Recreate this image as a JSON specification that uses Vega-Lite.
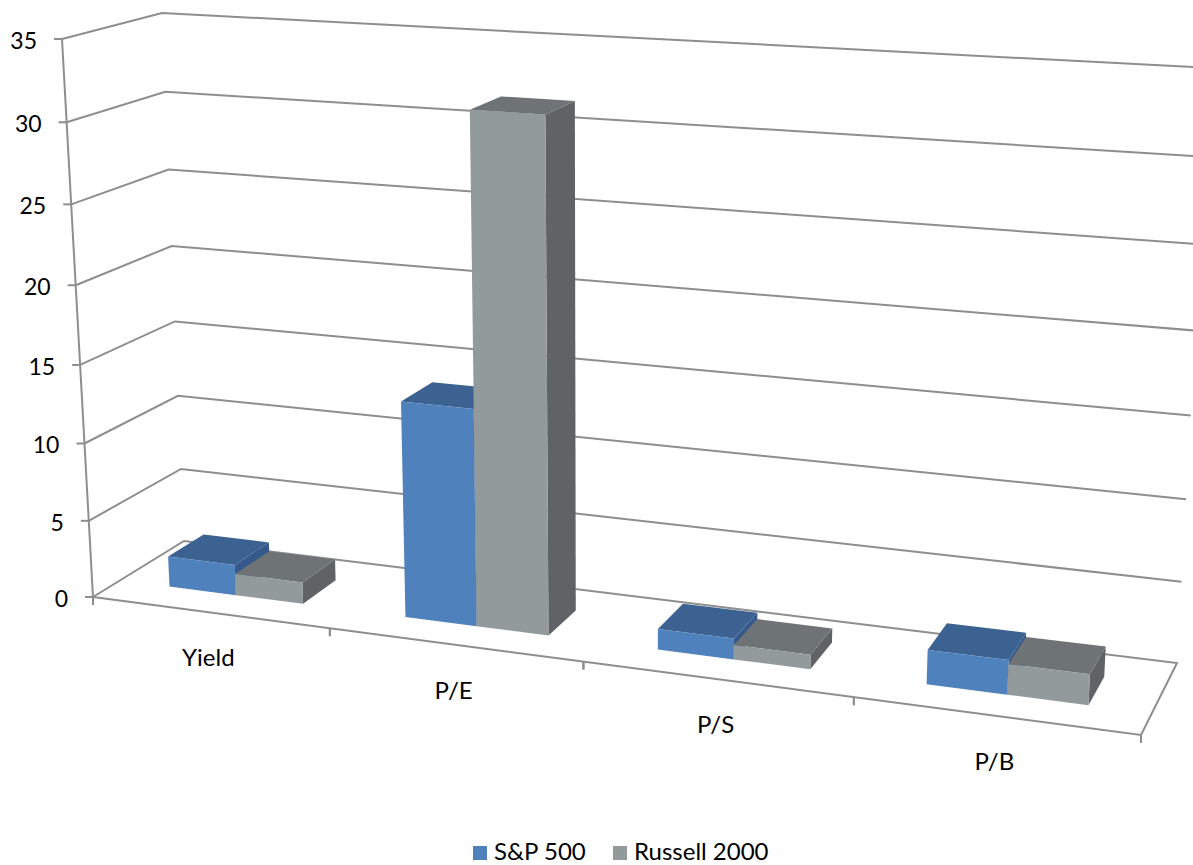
{
  "$schema": "https://vega.github.io/schema/vega-lite/v6.json",
  "width": 1193,
  "height": 865,
  "padding": 0,
  "autosize": "none",
  "background": "white",
  "config": {"view": {"stroke": null}},
  "datasets": {
    "levels": [{"level": 0}, {"level": 5}, {"level": 10}, {"level": 15}, {"level": 20}, {"level": 25}, {"level": 30}, {"level": 35}],
    "categories": [{"metric": "Yield"}, {"metric": "P/E"}, {"metric": "P/S"}, {"metric": "P/B"}],
    "bars": [
      {"metric": "Yield", "series": "S&P 500", "value": 2.0},
      {"metric": "P/E", "series": "S&P 500", "value": 13.7},
      {"metric": "P/S", "series": "S&P 500", "value": 1.3},
      {"metric": "P/B", "series": "S&P 500", "value": 2.1},
      {"metric": "Yield", "series": "Russell 2000", "value": 1.4},
      {"metric": "P/E", "series": "Russell 2000", "value": 31.7},
      {"metric": "P/S", "series": "Russell 2000", "value": 0.9},
      {"metric": "P/B", "series": "Russell 2000", "value": 1.85}
    ]
  },
  "layer": [
    {
      "description": "Wall gridlines, with the floor outline closing the zero level",
      "data": {"name": "levels"},
      "transform": [
        {"calculate": "datum.level==0?[0,1,2,3,4]:[0,1,2]", "as": "node"},
        {"flatten": ["node"]},
        {"calculate": "[0,0,4,4,0][datum.node]", "as": "u"},
        {"calculate": "[0,1,1,0,0][datum.node]", "as": "w"},
        {"calculate": "datum.level", "as": "v"},
        {"calculate": "0.218*datum.u+0.008*datum.u*datum.u", "as": "t"},
        {"calculate": "0.948*datum.v/35+0.052*pow(datum.v/35,2)", "as": "sp"},
        {"calculate": "(1-datum.w)*(93+1048*datum.t)+datum.w*(184+993*datum.t)+datum.sp*((1-datum.w)*(-31+62*datum.t)+datum.w*(-22+55*datum.t))", "as": "px"},
        {"calculate": "(1-datum.w)*(597+138*datum.t)+datum.w*(541+122*datum.t)+datum.sp*((1-datum.w)*(-558-71*datum.t)+datum.w*(-528-67*datum.t))", "as": "py"}
      ],
      "mark": {"type": "line", "stroke": "#8E8E8E", "strokeWidth": 2},
      "encoding": {
        "x": {"field": "px", "type": "quantitative", "scale": {"domain": [0, 1193], "nice": false, "zero": false}, "axis": null},
        "y": {"field": "py", "type": "quantitative", "scale": {"domain": [865, 0], "nice": false, "zero": false}, "axis": null},
        "detail": {"field": "level"},
        "order": {"field": "node", "type": "quantitative"}
      }
    },
    {
      "description": "Value axis line and its ticks and labels",
      "data": {"name": "levels"},
      "transform": [
        {"calculate": "0.948*datum.level/35+0.052*pow(datum.level/35,2)", "as": "sp"},
        {"calculate": "93-31*datum.sp", "as": "px"},
        {"calculate": "597-558*datum.sp", "as": "py"},
        {"calculate": "datum.px-8", "as": "tx"}
      ],
      "layer": [
        {
          "mark": {"type": "line", "stroke": "#8E8E8E", "strokeWidth": 2},
          "encoding": {
            "x": {"field": "px", "type": "quantitative", "scale": {"domain": [0, 1193], "nice": false, "zero": false}, "axis": null},
            "y": {"field": "py", "type": "quantitative", "scale": {"domain": [865, 0], "nice": false, "zero": false}, "axis": null},
            "order": {"field": "level", "type": "quantitative"}
          }
        },
        {
          "mark": {"type": "rule", "stroke": "#8E8E8E", "strokeWidth": 2},
          "encoding": {
            "x": {"field": "tx", "type": "quantitative", "scale": {"domain": [0, 1193], "nice": false, "zero": false}, "axis": null},
            "x2": {"field": "px"},
            "y": {"field": "py", "type": "quantitative", "scale": {"domain": [865, 0], "nice": false, "zero": false}, "axis": null}
          }
        },
        {
          "mark": {"type": "text", "align": "right", "baseline": "middle", "dx": -25, "dy": 3, "font": "Lato", "fontSize": 23, "fill": "#000000"},
          "encoding": {
            "x": {"field": "px", "type": "quantitative", "scale": {"domain": [0, 1193], "nice": false, "zero": false}, "axis": null},
            "y": {"field": "py", "type": "quantitative", "scale": {"domain": [865, 0], "nice": false, "zero": false}, "axis": null},
            "text": {"field": "level", "type": "quantitative"}
          }
        }
      ]
    },
    {
      "description": "Category ticks along the front floor edge",
      "data": {"name": "categories"},
      "transform": [
        {"calculate": "indexof(['Yield','P/E','P/S','P/B'],datum.metric)", "as": "idx"},
        {"calculate": "[datum.idx,datum.idx+1]", "as": "u"},
        {"flatten": ["u"]},
        {"calculate": "0.218*datum.u+0.008*datum.u*datum.u", "as": "t"},
        {"calculate": "93+1048*datum.t", "as": "px"},
        {"calculate": "597+138*datum.t", "as": "py"},
        {"calculate": "datum.py+8", "as": "ty"}
      ],
      "mark": {"type": "rule", "stroke": "#8E8E8E", "strokeWidth": 2},
      "encoding": {
        "x": {"field": "px", "type": "quantitative", "scale": {"domain": [0, 1193], "nice": false, "zero": false}, "axis": null},
        "y": {"field": "py", "type": "quantitative", "scale": {"domain": [865, 0], "nice": false, "zero": false}, "axis": null},
        "y2": {"field": "ty"}
      }
    },
    {
      "description": "Category labels below the floor",
      "data": {"name": "categories"},
      "transform": [
        {"calculate": "indexof(['Yield','P/E','P/S','P/B'],datum.metric)+0.5", "as": "u"},
        {"calculate": "0.218*datum.u+0.008*datum.u*datum.u", "as": "t"},
        {"calculate": "93+1048*datum.t", "as": "px"},
        {"calculate": "597+138*datum.t", "as": "py"}
      ],
      "mark": {"type": "text", "align": "center", "baseline": "middle", "dx": -1, "dy": 47, "font": "Lato", "fontSize": 24, "fill": "#000000"},
      "encoding": {
        "x": {"field": "px", "type": "quantitative", "scale": {"domain": [0, 1193], "nice": false, "zero": false}, "axis": null},
        "y": {"field": "py", "type": "quantitative", "scale": {"domain": [865, 0], "nice": false, "zero": false}, "axis": null},
        "text": {"field": "metric", "type": "nominal"}
      }
    },
    {
      "description": "Each bar as a projected box; side and top faces, then front faces over them",
      "data": {"name": "bars"},
      "transform": [
        {"calculate": "0.997*indexof(['Yield','P/E','P/S','P/B'],datum.metric)", "as": "idx"},
        {"calculate": "datum.idx+(datum.series=='S&P 500'?0.217:0.505)", "as": "ulo"},
        {"calculate": "datum.idx+(datum.series=='S&P 500'?0.505:0.79)", "as": "uhi"},
        {"calculate": "['side','top','front']", "as": "face"},
        {"flatten": ["face"]},
        {"calculate": "[0,1,2,3]", "as": "corner"},
        {"flatten": ["corner"]},
        {"calculate": "datum.face=='side'?datum.uhi:((datum.corner==0||datum.corner==3)?datum.ulo:datum.uhi)", "as": "u"},
        {"calculate": "datum.face=='front'?0.3:(datum.face=='top'?(datum.corner<2?0.3:0.7):((datum.corner==0||datum.corner==3)?0.3:0.7))", "as": "w"},
        {"calculate": "datum.face=='top'?datum.value:(datum.corner<2?0:datum.value)", "as": "v"},
        {"calculate": "0.218*datum.u+0.008*datum.u*datum.u", "as": "t"},
        {"calculate": "0.948*datum.v/35+0.052*pow(datum.v/35,2)", "as": "sp"},
        {"calculate": "(1-datum.w)*(93+1048*datum.t)+datum.w*(184+993*datum.t)+datum.sp*((1-datum.w)*(-31+62*datum.t)+datum.w*(-22+55*datum.t))", "as": "px"},
        {"calculate": "(1-datum.w)*(597+138*datum.t)+datum.w*(541+122*datum.t)+datum.sp*((1-datum.w)*(-558-71*datum.t)+datum.w*(-528-67*datum.t))", "as": "py"},
        {"calculate": "datum.series=='S&P 500'?(datum.face=='top'?'#3C6291':'#35598A'):(datum.face=='top'?'#6E7375':'#5F6366')", "as": "shade"},
        {"calculate": "datum.metric+datum.series+datum.face", "as": "faceKey"}
      ],
      "layer": [
        {
          "transform": [{"filter": "datum.face!='front'"}],
          "mark": {"type": "line", "filled": true, "strokeWidth": 0},
          "encoding": {
            "x": {"field": "px", "type": "quantitative", "scale": {"domain": [0, 1193], "nice": false, "zero": false}, "axis": null},
            "y": {"field": "py", "type": "quantitative", "scale": {"domain": [865, 0], "nice": false, "zero": false}, "axis": null},
            "fill": {"field": "shade", "type": "nominal", "scale": null},
            "detail": {"field": "faceKey"},
            "order": {"field": "corner", "type": "quantitative"}
          }
        },
        {
          "transform": [{"filter": "datum.face=='front'"}],
          "mark": {"type": "line", "filled": true, "strokeWidth": 0},
          "encoding": {
            "x": {"field": "px", "type": "quantitative", "scale": {"domain": [0, 1193], "nice": false, "zero": false}, "axis": null},
            "y": {"field": "py", "type": "quantitative", "scale": {"domain": [865, 0], "nice": false, "zero": false}, "axis": null},
            "fill": {
              "field": "series",
              "type": "nominal",
              "scale": {"domain": ["S&P 500", "Russell 2000"], "range": ["#4F81BD", "#929A9B"]},
              "legend": {
                "title": null,
                "orient": "none",
                "legendX": 468,
                "legendY": 841,
                "direction": "horizontal",
                "symbolType": "square",
                "symbolSize": 196,
                "symbolStrokeWidth": 0,
                "labelFont": "Lato",
                "labelFontSize": 24,
                "labelColor": "#000000",
                "labelOffset": 2,
                "columnPadding": 21
              }
            },
            "detail": {"field": "faceKey"},
            "order": {"field": "corner", "type": "quantitative"}
          }
        }
      ]
    }
  ]
}
